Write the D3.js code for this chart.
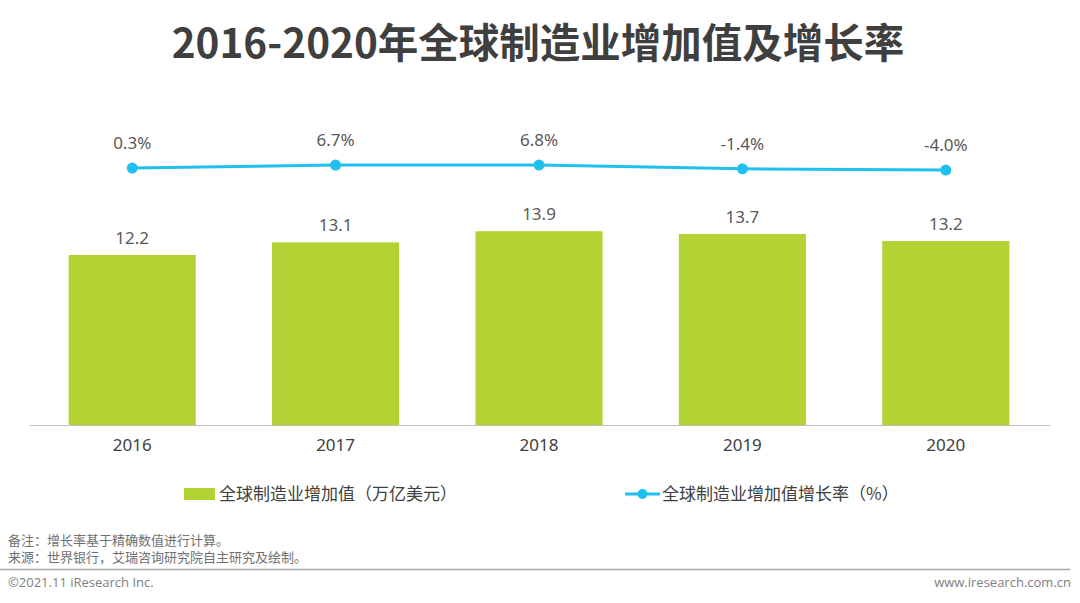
<!DOCTYPE html>
<html><head><meta charset="utf-8">
<script src="https://cdn.jsdelivr.net/npm/d3@7"></script>
<style>body{margin:0;background:#fff;} svg{display:block;font-family:"Noto Sans CJK SC","Noto Sans",sans-serif;}</style>
</head><body>
<svg id="c" width="1080" height="603"></svg>
<script>
const categories = ["2016","2017","2018","2019","2020"];
const valueSeries = [12.2, 13.1, 13.9, 13.7, 13.2];
const growthSeries = [0.3, 6.7, 6.8, -1.4, -4.0];
const growthLabels = ["0.3%","6.7%","6.8%","-1.4%","-4.0%"];
const title = "2016-2020年全球制造业增加值及增长率";
const legendBar = "全球制造业增加值（万亿美元）";
const legendLine = "全球制造业增加值增长率（%）";
const notes = ["备注：增长率基于精确数值进行计算。","来源：世界银行，艾瑞咨询研究院自主研究及绘制。"];
const copyright = "©2021.11 iResearch Inc.";
const website = "www.iresearch.com.cn";

const svg = d3.select("#c");
const barColor = "#b3d234", lineColor = "#1fc0ee";

svg.append("text").attr("x",538).attr("y",58).attr("text-anchor","middle")
  .attr("font-size",40.5).attr("font-weight","bold").attr("fill","#3f3f3f").text(title);

const x = d3.scaleBand().domain(categories).range([30,1048]).paddingInner(0.375).paddingOuter(0.19);
const y = d3.scaleLinear().domain([0,20]).range([425,146.2]);
const y2 = d3.scaleLinear().domain([-200,200]).range([260.2,76.2]);

// axis
const ax = svg.append("g").attr("transform","translate(0,425)").call(d3.axisBottom(x).tickSize(0).tickPadding(14));
ax.select(".domain").attr("stroke","#bfbfbf").attr("stroke-width",1.2).attr("d","M30,0.5H1050");
ax.selectAll("text").attr("font-size",17).attr("fill","#404040").attr("font-family","'Noto Sans','Noto Sans CJK SC',sans-serif");

// bars
svg.selectAll("rect.bar").data(valueSeries).join("rect").attr("class","bar")
  .attr("x",(d,i)=>x(categories[i])).attr("width",x.bandwidth())
  .attr("y",d=>y(d)).attr("height",d=>y(0)-y(d)).attr("fill",barColor);
svg.selectAll("text.bl").data(valueSeries).join("text").attr("class","bl")
  .attr("x",(d,i)=>x(categories[i])+x.bandwidth()/2).attr("y",d=>y(d)-11)
  .attr("text-anchor","middle").attr("font-size",17).attr("fill","#595959")
  .attr("font-family","'Noto Sans',sans-serif").text(d=>d.toFixed(1));

// line
const cx = (d,i)=>x(categories[i])+x.bandwidth()/2;
svg.append("path").datum(growthSeries).attr("fill","none").attr("stroke",lineColor).attr("stroke-width",3)
  .attr("d",d3.line().x(cx).y(d=>y2(d)));
svg.selectAll("circle.pt").data(growthSeries).join("circle").attr("class","pt")
  .attr("cx",cx).attr("cy",d=>y2(d)).attr("r",5.5).attr("fill",lineColor);
svg.selectAll("text.ll").data(growthSeries).join("text").attr("class","ll")
  .attr("x",cx).attr("y",d=>y2(d)-19).attr("text-anchor","middle").attr("font-size",17)
  .attr("fill","#595959").attr("font-family","'Noto Sans',sans-serif").text((d,i)=>growthLabels[i]);

// legend
svg.append("rect").attr("x",184).attr("y",488).attr("width",31).attr("height",12).attr("fill",barColor);
svg.append("text").attr("x",219).attr("y",500).attr("font-size",17).attr("fill","#404040").text(legendBar);
svg.append("line").attr("x1",625).attr("x2",660).attr("y1",494).attr("y2",494).attr("stroke",lineColor).attr("stroke-width",3);
svg.append("circle").attr("cx",642.5).attr("cy",494).attr("r",5).attr("fill",lineColor);
svg.append("text").attr("x",662).attr("y",500).attr("font-size",17).attr("fill","#404040").text(legendLine);

// footer
svg.selectAll("text.note").data(notes).join("text").attr("class","note")
  .attr("x",8).attr("y",(d,i)=>545+i*17).attr("font-size",13).attr("fill","#707070").text(d=>d);
svg.append("line").attr("x1",0).attr("x2",1070).attr("y1",569.5).attr("y2",569.5).attr("stroke","#a6a6a6").attr("stroke-width",1.5);
svg.append("text").attr("x",8).attr("y",587).attr("font-size",13).attr("fill","#808080").attr("font-family","'Open Sans','Noto Sans',sans-serif").text(copyright);
svg.append("text").attr("x",1071).attr("y",587).attr("text-anchor","end").attr("font-size",13).attr("fill","#808080").attr("font-family","'Open Sans','Noto Sans',sans-serif").text(website);
</script>
</body></html>
